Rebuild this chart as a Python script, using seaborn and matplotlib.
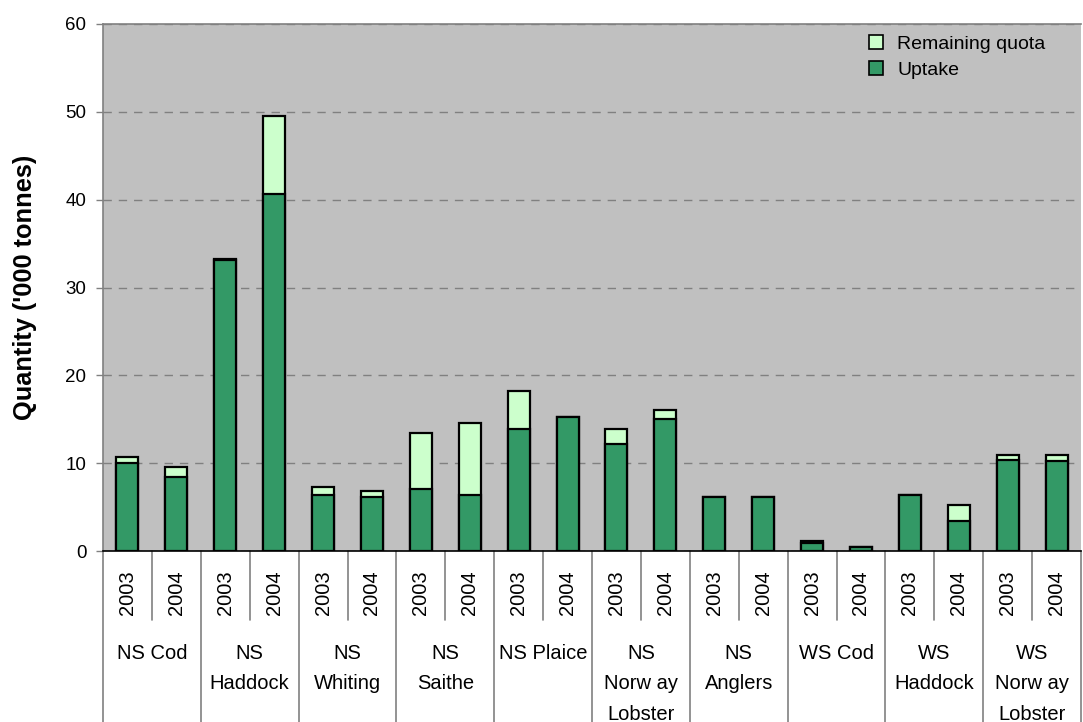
import matplotlib.pyplot as plt
import pandas as pd
import seaborn as sns
from matplotlib.lines import Line2D

# data ('000 tonnes)
species = ["NS Cod", "NS\nHaddock", "NS\nWhiting", "NS\nSaithe", "NS Plaice",
           "NS\nNorw ay\nLobster", "NS\nAnglers", "WS Cod", "WS\nHaddock",
           "WS\nNorw ay\nLobster"]
years = ["2003", "2004"]
uptake = [10.0, 8.4, 33.1, 40.6, 6.4, 6.2, 7.1, 6.4, 13.9, 15.3,
          12.2, 15.0, 6.2, 6.2, 0.9, 0.5, 6.4, 3.4, 10.4, 10.2]
remaining = [0.7, 1.2, 0.2, 8.9, 0.9, 0.6, 6.3, 8.2, 4.3, 0.0,
             1.7, 1.0, 0.0, 0.0, 0.2, 0.0, 0.0, 1.8, 0.5, 0.7]

rows = []
for i, sp in enumerate(species):
    for j, yr in enumerate(years):
        k = i * 2 + j
        rows.append({"bar": f"{sp} {yr}", "species": sp, "year": yr,
                     "uptake": uptake[k], "total": uptake[k] + remaining[k]})
df = pd.DataFrame(rows)

sns.set_style("white")
plt.rcParams["font.family"] = ["Liberation Sans", "DejaVu Sans"]
plt.rcParams["text.color"] = "black"
plt.rcParams["axes.labelcolor"] = "black"
plt.rcParams["ytick.labelcolor"] = "black"

fig = plt.figure(figsize=(10.83, 7.22), dpi=100)
ax = fig.add_axes([103 / 1083, 1 - 551 / 722, 978 / 1083, 527 / 722])
ax.set_facecolor("#c0c0c0")

sns.barplot(data=df, x="bar", y="total", color="#ccffcc", saturation=1,
            edgecolor="black", linewidth=1.6, width=0.45, ax=ax, zorder=3)
sns.barplot(data=df, x="bar", y="uptake", color="#339966", saturation=1,
            edgecolor="black", linewidth=1.6, width=0.45, ax=ax, zorder=4)

ax.set_xlim(-0.5, len(df) - 0.5)
ax.set_ylim(0, 60)
ax.set_yticks(range(0, 61, 10))
ax.tick_params(axis="y", labelsize=13.5, length=5, width=1, color="#808080",
               labelcolor="black", direction="out", left=True, pad=7)
ax.set_xticks([])
ax.set_xlabel("")
ax.yaxis.grid(True, linestyle=(0, (6, 5)), color="#808080", linewidth=1, zorder=1)
ax.set_axisbelow(True)

for s in ["left", "top"]:
    ax.spines[s].set_color("#808080")
    ax.spines[s].set_linewidth(1.2)
ax.spines["bottom"].set_color("black")
ax.spines["bottom"].set_linewidth(1.2)
ax.spines["right"].set_visible(False)

ax.set_ylabel("Quantity ('000 tonnes)", fontsize=18.3, fontweight="bold", color="black")
ax.yaxis.set_label_coords((37 - 103) / 978, 0.5)

# two-level category axis
tr = ax.get_xaxis_transform()
for k in range(len(df) + 1):
    x = k - 0.5
    low = -0.324 if k % 2 == 0 else -0.131
    ax.plot([x, x], [0, low], transform=tr, color="#808080", lw=1.2, clip_on=False)
for k, yr in enumerate(df["year"]):
    ax.text(k, -0.080, yr, transform=tr, rotation=90, ha="center", va="center",
            fontsize=14.5, color="black")
for i, sp in enumerate(species):
    ax.text(i * 2 + 0.5, -0.176, sp, transform=tr, ha="center", va="top",
            fontsize=14.5, linespacing=1.76, color="black")

handles = [Line2D([], [], marker="s", ls="", markersize=10, mfc="#ccffcc", mec="black", mew=1.2),
           Line2D([], [], marker="s", ls="", markersize=10, mfc="#339966", mec="black", mew=1.2)]
leg = ax.legend(handles, ["Remaining quota", "Uptake"], loc="upper left",
                bbox_to_anchor=((868 - 103) / 978, 1 - 11 / 527), frameon=False,
                fontsize=14, handlelength=0.8, handletextpad=0.7, borderpad=0,
                borderaxespad=0, labelspacing=0.45)
for t in leg.get_texts():
    t.set_color("black")

fig.savefig("out.png", dpi=100)
